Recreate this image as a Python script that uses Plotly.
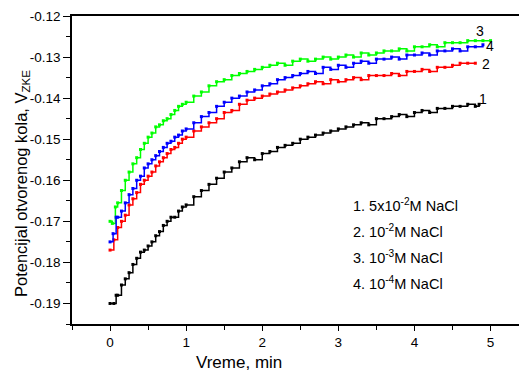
import plotly.graph_objects as go

t_black = [0.0, 0.05, 0.08, 0.1, 0.15, 0.2, 0.25, 0.3, 0.35, 0.4, 0.45, 0.5, 0.55, 0.6, 0.65, 0.7, 0.75, 0.8,
           0.85, 0.9, 0.95, 1.0, 1.1, 1.2, 1.3, 1.4, 1.5, 1.6, 1.7,
           1.8, 1.9, 2.0, 2.1, 2.2, 2.3, 2.4, 2.5, 2.6, 2.7, 2.8, 2.9, 3.0, 3.1, 3.2, 3.3, 3.4, 3.5, 3.6, 3.7,
           3.8, 3.9, 4.0, 4.1, 4.2, 4.3, 4.4, 4.5, 4.6, 4.7, 4.8, 4.85]
v_black = [-0.1900, -0.1900, -0.1880, -0.1880, -0.1855, -0.1840, -0.1825, -0.1805, -0.1790, -0.1775, -0.1770,
           -0.1760, -0.1750, -0.1735, -0.1725, -0.1710, -0.1700, -0.1690, -0.1690, -0.1675, -0.1665, -0.1660,
           -0.1640, -0.1625, -0.1610, -0.1595, -0.1580, -0.1570, -0.1555, -0.1545, -0.1550,
           -0.1535, -0.1530, -0.1520, -0.1515, -0.1510, -0.1500, -0.1495, -0.1490, -0.1485, -0.1480, -0.1475,
           -0.1470, -0.1465, -0.1460, -0.1465, -0.1450, -0.1450, -0.1445, -0.1440, -0.1445, -0.1435, -0.1430,
           -0.1435, -0.1425, -0.1425, -0.1420, -0.1420, -0.1415, -0.1420, -0.1415]

t_red = [0.0, 0.05, 0.1, 0.15, 0.2, 0.25, 0.3, 0.35, 0.4, 0.45, 0.5, 0.55, 0.6, 0.65, 0.7, 0.75, 0.8, 0.85,
         0.9, 0.95, 1.0, 1.1, 1.2, 1.3, 1.4, 1.5, 1.6, 1.7, 1.8, 1.9,
         2.0, 2.1, 2.2, 2.3, 2.4, 2.5, 2.6, 2.7, 2.8, 2.9, 3.0, 3.1, 3.2, 3.3, 3.4, 3.5, 3.6, 3.7, 3.8, 3.9,
         4.0, 4.1, 4.2, 4.3, 4.4, 4.5, 4.6, 4.7, 4.8]
v_red = [-0.1770, -0.1745, -0.1715, -0.1700, -0.1685, -0.1660, -0.1645, -0.1630, -0.1610, -0.1600, -0.1590,
         -0.1580, -0.1565, -0.1555, -0.1545, -0.1535, -0.1525, -0.1520, -0.1510, -0.1500, -0.1495,
         -0.1480, -0.1470, -0.1460, -0.1450, -0.1435, -0.1430, -0.1415, -0.1405, -0.1400, -0.1395, -0.1390,
         -0.1385, -0.1380, -0.1375, -0.1370, -0.1365, -0.1360, -0.1365, -0.1355, -0.1360, -0.1355, -0.1350,
         -0.1355, -0.1345, -0.1345, -0.1345, -0.1340, -0.1345, -0.1335, -0.1335, -0.1330, -0.1335, -0.1325,
         -0.1325, -0.1320, -0.1315, -0.1315, -0.1315]

t_blue = [0.0, 0.04, 0.08, 0.1, 0.15, 0.2, 0.25, 0.3, 0.35, 0.4, 0.45, 0.5, 0.55, 0.6, 0.65, 0.7, 0.75, 0.8,
          0.85, 0.9, 0.95, 1.0, 1.1, 1.2, 1.3, 1.4, 1.5, 1.6, 1.7, 1.8,
          1.9, 2.0, 2.1, 2.2, 2.3, 2.4, 2.5, 2.6, 2.7, 2.8, 2.9, 3.0, 3.1, 3.2, 3.3, 3.4, 3.5, 3.6, 3.7, 3.8,
          3.9, 4.0, 4.1, 4.2, 4.3, 4.4, 4.5, 4.6, 4.7, 4.8, 4.9]
v_blue = [-0.1750, -0.1730, -0.1690, -0.1690, -0.1675, -0.1655, -0.1635, -0.1620, -0.1600, -0.1590, -0.1570,
          -0.1560, -0.1550, -0.1540, -0.1530, -0.1520, -0.1510, -0.1505, -0.1495, -0.1490, -0.1480, -0.1475,
          -0.1460, -0.1445, -0.1435, -0.1420, -0.1410, -0.1400, -0.1395, -0.1385, -0.1380, -0.1370,
          -0.1365, -0.1355, -0.1350, -0.1345, -0.1340, -0.1335, -0.1340, -0.1325, -0.1330, -0.1320, -0.1325,
          -0.1315, -0.1310, -0.1315, -0.1305, -0.1305, -0.1300, -0.1305, -0.1295, -0.1295, -0.1290, -0.1295,
          -0.1285, -0.1285, -0.1280, -0.1285, -0.1275, -0.1275, -0.1270]

t_green = [0.0, 0.03, 0.07, 0.1, 0.15, 0.2, 0.25, 0.3, 0.35, 0.4, 0.45, 0.5, 0.55, 0.6, 0.65, 0.7, 0.75, 0.8,
           0.85, 0.9, 0.95, 1.0, 1.1, 1.2, 1.3, 1.4, 1.5, 1.6, 1.7, 1.8,
           1.9, 2.0, 2.1, 2.2, 2.3, 2.4, 2.5, 2.6, 2.7, 2.8, 2.9, 3.0, 3.1, 3.2, 3.3, 3.4, 3.5, 3.6, 3.7, 3.8,
           3.9, 4.0, 4.1, 4.2, 4.3, 4.4, 4.5, 4.6, 4.7, 4.8, 4.9, 5.0]
v_green = [-0.1700, -0.1705, -0.1665, -0.1655, -0.1625, -0.1600, -0.1580, -0.1560, -0.1545, -0.1525, -0.1510,
           -0.1495, -0.1485, -0.1470, -0.1465, -0.1455, -0.1450, -0.1440, -0.1430, -0.1420, -0.1415, -0.1410,
           -0.1395, -0.1385, -0.1370, -0.1360, -0.1355, -0.1345, -0.1340, -0.1335, -0.1330, -0.1325,
           -0.1320, -0.1315, -0.1320, -0.1310, -0.1305, -0.1310, -0.1305, -0.1300, -0.1305, -0.1300, -0.1295,
           -0.1300, -0.1290, -0.1295, -0.1290, -0.1285, -0.1285, -0.1280, -0.1285, -0.1275, -0.1275, -0.1270,
           -0.1275, -0.1265, -0.1265, -0.1265, -0.1260, -0.1260, -0.1260, -0.1260]

series = [
    (t_black, v_black, "#000000", "1"),
    (t_red, v_red, "#ff0000", "2"),
    (t_green, v_green, "#00ff00", "3"),
    (t_blue, v_blue, "#0000ff", "4"),
]

legend_lines = ["1. 5x10<sup>-2</sup>M NaCl", "2. 10<sup>-2</sup>M NaCl",
                "3. 10<sup>-3</sup>M NaCl", "4. 10<sup>-4</sup>M NaCl"]

x_ticks = [0, 1, 2, 3, 4, 5]
y_ticks = [-0.19, -0.18, -0.17, -0.16, -0.15, -0.14, -0.13, -0.12]
y_ticktext = ["-0.19", "-0.18", "-0.17", "-0.16", "-0.15", "-0.14", "-0.13", "-0.12"]

FONT = "Liberation Sans, Arial, sans-serif"
L, T, W, H = 72, 16, 447, 308

fig = go.Figure()
for t, v, c, name in series:
    fig.add_trace(go.Scatter(
        x=t, y=v, mode="lines+markers", name=name,
        line=dict(color=c, width=1.5, shape="hv"),
        marker=dict(color=c, size=3, symbol="square"),
        showlegend=False,
    ))

# curve labels
label_pos = [(4.82, -0.1403, "1"), (4.86, -0.1318, "2"), (4.78, -0.1237, "3"), (4.92, -0.1273, "4")]
for x, y, txt in label_pos:
    fig.add_annotation(x=x, y=y, text=txt, showarrow=False, xanchor="left", yanchor="middle",
                       font=dict(family=FONT, size=14, color="#000000"))

for i, txt in enumerate(legend_lines):
    fig.add_annotation(xref="paper", yref="paper", x=(351 - L) / W, y=1 - (205 + 26 * i - T) / H,
                       text=txt, showarrow=False, xanchor="left", yanchor="middle",
                       font=dict(family=FONT, size=14.5, color="#000000"))

# axis titles
fig.add_annotation(xref="paper", yref="paper", x=(239 - L) / W, y=1 - (362 - T) / H,
                   text="Vreme, min", showarrow=False, xanchor="center", yanchor="middle",
                   font=dict(family=FONT, size=17, color="#000000"))
fig.add_annotation(xref="paper", yref="paper", x=(22 - L) / W, y=1 - (184 - T) / H,
                   text="Potencijal otvorenog kola, V<sub>ZKE</sub>", textangle=-90,
                   showarrow=False, xanchor="center", yanchor="middle",
                   font=dict(family=FONT, size=16.5, color="#000000"))

fig.update_layout(
    width=519, height=371,
    margin=dict(l=L, r=0, t=T, b=47),
    paper_bgcolor="white", plot_bgcolor="white",
    font=dict(family=FONT, size=13.5, color="#000000"),
    xaxis=dict(
        range=[-0.5, 5.374], tickmode="array", tickvals=x_ticks,
        showgrid=False, zeroline=False, showline=True, linecolor="#000000", linewidth=1.5,
        mirror=True, ticks="outside", ticklen=5, tickwidth=1, tickcolor="#000000",
        minor=dict(tickvals=[-0.5, 0.5, 1.5, 2.5, 3.5, 4.5], ticks="outside", ticklen=4, tickcolor="#000000"),
        tickfont=dict(family=FONT, size=13.5),
    ),
    yaxis=dict(
        range=[-0.195, -0.12], tickmode="array", tickvals=y_ticks, ticktext=y_ticktext,
        showgrid=False, zeroline=False, showline=True, linecolor="#000000", linewidth=1.5,
        ticks="outside", ticklen=7, tickwidth=1, tickcolor="#000000",
        minor=dict(tickvals=[-0.195, -0.185, -0.175, -0.165, -0.155, -0.145, -0.135, -0.125],
                   ticks="outside", ticklen=4, tickcolor="#000000"),
        tickfont=dict(family=FONT, size=13.5),
    ),
)

fig.write_html("out.html")
